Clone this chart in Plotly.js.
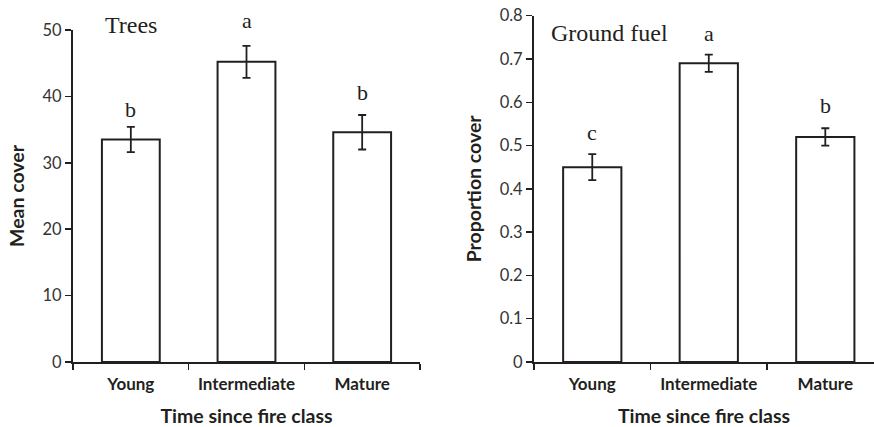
<!DOCTYPE html>
<html>
<head>
<meta charset="utf-8">
<script src="https://cdn.plot.ly/plotly-3.0.1.min.js"></script>
<style>html,body{margin:0;padding:0;background:#fff;}#chart{width:874px;height:427px;}</style>
</head>
<body>
<div id="chart"></div>
<script>
// ---- data ----
const categories = ["Young", "Intermediate", "Mature"];
const treesMean = [33.5, 45.2, 34.6];
const treesSE = [1.9, 2.4, 2.6];
const treesLetters = ["b", "a", "b"];
const fuelMean = [0.45, 0.69, 0.52];
const fuelSE = [0.03, 0.02, 0.02];
const fuelLetters = ["c", "a", "b"];
const panelLabels = ["Trees", "Ground fuel"];
const xTitle = "Time since fire class";
const yTitles = ["Mean cover", "Proportion cover"];

const INK = "#231f20";
const SANS = "Lato, 'Open Sans', sans-serif";
const SERIF = "'Liberation Serif', 'DejaVu Serif', serif";

function barTrace(vals, se, xa, ya) {
  return {
    type: "bar", x: categories, y: vals, xaxis: xa, yaxis: ya,
    width: 0.5,
    marker: {color: "#ffffff", line: {color: INK, width: 2}},
    error_y: {type: "data", array: se, visible: true, color: INK, thickness: 1.8, width: 4},
    hoverinfo: "skip", showlegend: false
  };
}

const data = [
  barTrace(treesMean, treesSE, "x", "y"),
  barTrace(fuelMean, fuelSE, "x2", "y2")
];

function xAxis(domain, range, anchor) {
  return {
    domain: domain, range: range, anchor: anchor, type: "category",
    showline: true, linecolor: INK, linewidth: 2,
    ticks: "outside", tickson: "boundaries", ticklen: 6, tickwidth: 1.5, tickcolor: INK,
    ticklabelstandoff: 6,
    showgrid: false, zeroline: false, fixedrange: true,
    tickfont: {family: SANS, size: 17, color: INK, weight: "bold"},
    title: {text: xTitle, font: {family: SANS, size: 19.5, color: INK, weight: "bold"}, standoff: 20}
  };
}
function yAxis(domain, range, dtick, anchor, title) {
  return {
    domain: domain, range: range, dtick: dtick, anchor: anchor,
    showline: true, linecolor: INK, linewidth: 2,
    ticks: "outside", ticklen: 6, tickwidth: 1.5, tickcolor: INK,
    showgrid: false, zeroline: false, fixedrange: true,
    tickfont: {family: SANS, size: 16.5, color: "#333"},
    title: {text: title, font: {family: SANS, size: 19.5, color: INK, weight: "bold"}, standoff: 13}
  };
}

const annotations = [];
// letter positions: Trees panel in y-domain fractions, fuel panel in data units
const treesLetterY = [0.762, 1.030, 0.812];
const fuelLetterY = [0.531, 0.758, 0.592];
categories.forEach((c, i) => {
  annotations.push({xref: "x", yref: "y domain", x: c, y: treesLetterY[i], text: treesLetters[i], showarrow: false,
    yanchor: "middle", font: {family: SERIF, size: 22, color: INK}});
  annotations.push({xref: "x2", yref: "y2", x: c, y: fuelLetterY[i], text: fuelLetters[i], showarrow: false,
    yanchor: "middle", font: {family: SERIF, size: 22, color: INK}});
});
annotations.push({xref: "x", yref: "y domain", x: 0, y: 1.015, text: panelLabels[0], showarrow: false,
  yanchor: "middle", font: {family: SERIF, size: 24, color: INK}});
annotations.push({xref: "x2", yref: "y2", x: 0.148, y: 0.760, text: panelLabels[1], showarrow: false,
  yanchor: "middle", font: {family: SERIF, size: 24, color: INK}});

const layout = {
  width: 874, height: 427,
  margin: {l: 0, r: 0, t: 0, b: 0},
  paper_bgcolor: "#fff", plot_bgcolor: "#fff",
  xaxis: xAxis([73/874, 420/874], [-0.5, 2.5], "y"),
  yaxis: yAxis([65/427, 397/427], [0, 50], 10, "x", yTitles[0]),
  xaxis2: xAxis([534/874, 1], [-0.5, 2.418], "y2"),
  yaxis2: yAxis([65/427, 411.3/427], [0, 0.8], 0.1, "x2", yTitles[1]),
  annotations: annotations,
  bargap: 0.5
};

Plotly.newPlot("chart", data, layout, {displayModeBar: false, staticPlot: true});
</script>
</body>
</html>
